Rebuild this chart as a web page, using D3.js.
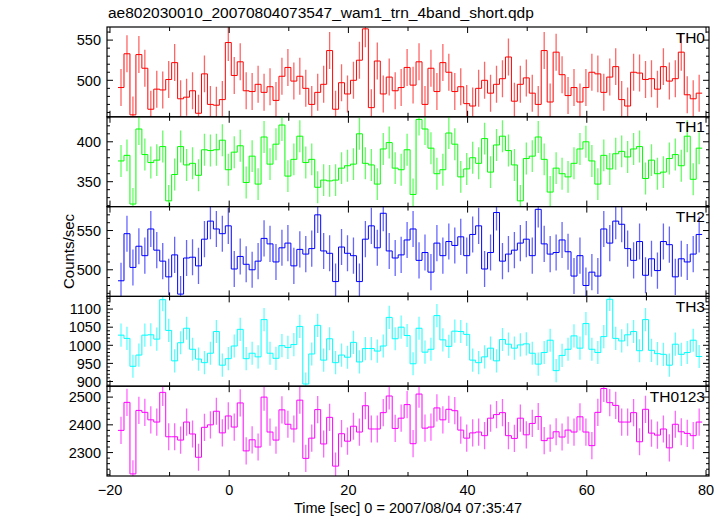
<!DOCTYPE html>
<html><head><meta charset="utf-8">
<script src="https://cdn.jsdelivr.net/npm/d3@7"></script>
<style>
body{margin:0;background:#fff}
svg{display:block}
text{font-family:"Liberation Sans",Arial,Helvetica,sans-serif;fill:#000}
</style>
</head><body><svg id="c" width="721" height="516"></svg>
<script>
const title = "ae802030010_20070804073547_wam1_trn_4band_short.qdp";
const xLabel = "Time [sec] 0 = 2007/08/04 07:35:47";
const yLabel = "Counts/sec";
const panelNames = ["TH0", "TH1", "TH2", "TH3", "TH0123"];
const colors = ["#ff0000", "#00ff00", "#0000ff", "#00ffff", "#ff00ff"];

const th0 = [491,533,457,532,515,464,489,488,501,522,477,479,487,459,508,470,469,476,547,506,
  523,487,486,495,485,492,475,505,516,499,505,490,470,485,495,537,464,497,483,500,
  525,564,466,524,483,504,487,491,516,
  494,523,470,515,486,522,510,486,492,471,468,490,500,484,495,502,529,474,495,503,
  484,470,537,473,535,507,481,491,473,491,510,508,485,504,517,476,468,510,509,501,
  502,489,517,499,502,535,482,477,484];
const th1 = [376,383,322,416,384,374,377,394,326,359,394,371,373,358,390,389,390,402,365,387,
  395,349,382,347,406,372,397,421,357,378,407,374,378,343,352,351,352,367,370,372,
  410,373,371,347,391,399,367,365,390,
  334,428,416,392,360,365,411,397,356,366,380,373,404,362,396,407,389,371,326,379,
  382,406,378,337,367,360,356,373,391,400,376,347,383,366,385,388,381,391,394,354,
  377,360,362,379,384,370,407,353,392];
const th2 = [486,546,503,530,518,552,525,511,491,519,469,515,516,505,539,562,552,546,556,501,
  517,507,500,511,540,533,510,528,534,505,526,520,527,570,524,521,485,529,521,518,
  485,539,556,528,572,524,515,519,538,
  552,512,522,497,534,518,536,531,542,518,545,556,501,522,573,511,520,525,534,539,
  518,577,533,520,522,538,523,492,518,480,497,492,552,534,562,558,527,512,536,493,
  514,499,536,532,491,514,510,520,545];
const th3 = [1028,1019,942,973,1028,1029,1017,1126,1041,957,1007,1047,989,962,952,978,1038,945,963,998,
  1044,963,978,968,1071,978,964,999,994,1002,1052,893,976,1055,959,1018,952,973,967,1008,
  954,991,991,984,998,1077,1018,1050,1027,
  949,1047,981,989,1082,1015,997,1039,1038,1030,959,952,968,992,957,1016,1003,992,1001,1004,
  978,948,980,1014,930,972,989,1026,992,1060,989,980,1024,1127,1019,1012,1029,1038,985,1071,
  986,977,975,945,1003,975,980,1014,969];
const th0123 = [2380,2481,2223,2452,2445,2418,2410,2517,2357,2357,2345,2410,2367,2283,2391,2400,2449,2371,2432,2392,
  2479,2306,2346,2320,2500,2374,2345,2454,2402,2385,2489,2279,2352,2455,2331,2427,2251,2368,2341,2395,
  2374,2469,2385,2385,2444,2504,2387,2424,2473,
  2332,2511,2388,2392,2461,2418,2456,2451,2381,2352,2371,2374,2361,2424,2437,2444,2361,2351,2424,2364,
  2405,2430,2343,2352,2375,2356,2381,2374,2429,2374,2325,2445,2531,2480,2470,2410,2410,2444,2339,2456,
  2370,2363,2385,2317,2402,2375,2369,2361,2410];
const series = [th0, th1, th2, th3, th0123];

const errHalf = [23, 20, 23, 32, 49];
const yDomains = [[454.6, 566.3], [318.8, 431.3], [466.1, 580.5], [887, 1135], [2215.5, 2539.3]];
const yMajorTicks = [[500, 550], [350, 400], [500, 550], [900, 950, 1000, 1050, 1100], [2300, 2400, 2500]];
const yMinorStep = [10, 10, 10, 10, 20];
const xDomain = [-20.5, 80.5];
const xMajorTicks = [-20, 0, 20, 40, 60, 80];
const xMinorTicks = [-10, 10, 30, 50, 70];
const tStart = -18.65, binWidth = 1;

const svg = d3.select("#c");
const L = 107, R = 709, T = 27, B = 476;
const nP = series.length;
const ph = (B - T) / nP;
const x = d3.scaleLinear().domain(xDomain).range([L, R]);

svg.append("text").attr("x", 108).attr("y", 18).attr("font-size", 15.5).text(title);

series.forEach((vals, p) => {
  const top = T + p * ph;
  const y = d3.scaleLinear().domain(yDomains[p]).range([top + ph, top]);
  const col = colors[p];
  const cid = "clip" + p;
  svg.append("clipPath").attr("id", cid).append("rect")
    .attr("x", L).attr("y", top).attr("width", R - L).attr("height", ph);
  const g = svg.append("g").attr("clip-path", `url(#${cid})`);

  const pts = vals.map((v, i) => [tStart + i * binWidth, v]);
  pts.push([tStart + vals.length * binWidth, vals[vals.length - 1]]);
  const line = d3.line().x(d => x(d[0])).y(d => y(d[1])).curve(d3.curveStepAfter);

  g.selectAll("line.err").data(vals).enter().append("line")
    .attr("x1", (d, i) => x(tStart + (i + 0.5) * binWidth))
    .attr("x2", (d, i) => x(tStart + (i + 0.5) * binWidth))
    .attr("y1", d => y(d - errHalf[p]))
    .attr("y2", d => y(d + errHalf[p]))
    .attr("stroke", col).attr("stroke-width", 1.3).attr("stroke-opacity", 0.6);

  g.append("path").attr("d", line(pts)).attr("fill", "none")
    .attr("stroke", col).attr("stroke-width", 1);

  svg.append("rect").attr("x", L).attr("y", top).attr("width", R - L).attr("height", ph)
    .attr("fill", "none").attr("stroke", "#000").attr("stroke-width", 1.2);

  const [d0, d1] = yDomains[p];
  const minor = d3.range(Math.ceil(d0 / yMinorStep[p]) * yMinorStep[p], d1, yMinorStep[p]);
  const tk = svg.append("g").attr("stroke", "#000").attr("stroke-width", 1);
  minor.forEach(v => {
    const isMajor = yMajorTicks[p].includes(v);
    const len = isMajor ? 6 : 3;
    tk.append("line").attr("x1", L).attr("x2", L + len).attr("y1", y(v)).attr("y2", y(v));
    tk.append("line").attr("x1", R).attr("x2", R - len).attr("y1", y(v)).attr("y2", y(v));
  });
  yMajorTicks[p].forEach(v => {
    svg.append("text").attr("x", 101).attr("y", y(v)).attr("dy", "0.36em")
      .attr("text-anchor", "end").attr("font-size", 14.5).text(v);
  });
  xMajorTicks.concat(xMinorTicks).forEach(t => {
    const len = xMajorTicks.includes(t) ? 6 : 4;
    tk.append("line").attr("x1", x(t)).attr("x2", x(t)).attr("y1", top).attr("y2", top + len);
    tk.append("line").attr("x1", x(t)).attr("x2", x(t)).attr("y1", top + ph).attr("y2", top + ph - len);
  });
  svg.append("text").attr("x", 705).attr("y", top + 15.5).attr("text-anchor", "end")
    .attr("font-size", 15.5).text(panelNames[p]);
});

xMajorTicks.forEach(t => {
  svg.append("text").attr("x", x(t)).attr("y", 495).attr("text-anchor", "middle")
    .attr("font-size", 14.5).text(t < 0 ? "\u2212" + Math.abs(t) : t);
});
svg.append("text").attr("x", 408).attr("y", 512.5).attr("text-anchor", "middle")
  .attr("font-size", 14.5).text(xLabel);
svg.append("text").attr("transform", `translate(74,${(T + B) / 2}) rotate(-90)`)
  .attr("text-anchor", "middle").attr("font-size", 15).text(yLabel);
</script>
</body></html>
